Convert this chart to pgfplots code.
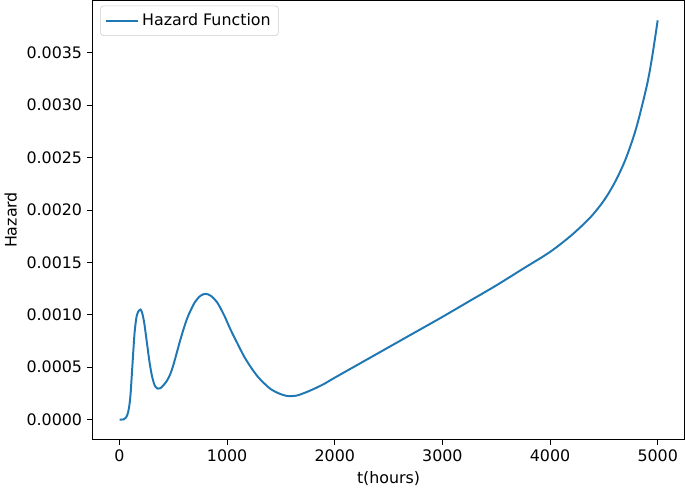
\documentclass[border=0pt]{standalone}
\usepackage{pgfplots}
\pgfplotsset{compat=1.18}
\usepackage{fontspec}
\setmainfont{DejaVu Sans}
\definecolor{mplblue}{HTML}{1F77B4}

\begin{document}
\begin{tikzpicture}
  \begin{axis}[
    scale only axis,
    width=422pt, height=313pt,
    xmin=-250, xmax=5250,
    ymin=-0.00019, ymax=0.0040,
    xtick={0,1000,2000,3000,4000,5000},
    ytick={0,0.0005,0.001,0.0015,0.002,0.0025,0.003,0.0035},
    scaled x ticks=false, scaled y ticks=false,
    xticklabel style={/pgf/number format/.cd, fixed, 1000 sep={}, assume math mode=true},
    yticklabel style={/pgf/number format/.cd, fixed, fixed zerofill, precision=4, assume math mode=true},
    tick align=outside,
    major tick length=4pt,
    tick style={black, line width=0.6pt},
    axis line style={line width=0.6pt},
    xtick pos=bottom, ytick pos=left,
    tick label style={font=\fontsize{11.3}{13}\selectfont},
    label style={font=\fontsize{11.3}{13}\selectfont},
    xlabel={t(hours)},
    ylabel={Hazard},
    legend style={at={(0.013,0.988)}, anchor=north west, draw=black!20,
      rounded corners=2pt, font=\fontsize{11.3}{13}\selectfont,
      inner sep=3.5pt, row sep=0pt},
    legend cell align=left,
    legend image code/.code={\draw[#1] (0cm,0cm) -- (0.8cm,0cm);},
  ]
  \addplot[mplblue, line width=1.4pt, smooth, tension=0.5] coordinates {
    (0,0) (40,0.000002) (60,0.00002) (80,0.00007) (100,0.00021)
    (120,0.00052) (140,0.00083) (160,0.00099) (180,0.00104) (195,0.00105)
    (210,0.00102) (230,0.00092) (255,0.00073) (280,0.00054) (305,0.00040)
    (330,0.00032) (356,0.000295) (380,0.00030) (410,0.00033) (440,0.00037)
    (470,0.00043) (500,0.00052) (530,0.00063) (562,0.00075) (600,0.00088)
    (630,0.00097) (660,0.00104) (700,0.00112) (750,0.00118) (800,0.00120)
    (850,0.00118) (906,0.00112) (970,0.00100) (1031,0.00086) (1094,0.00073)
    (1156,0.000605) (1220,0.00050) (1281,0.000414) (1340,0.00035) (1406,0.000290)
    (1480,0.000250) (1560,0.000225) (1640,0.000228) (1720,0.000255) (1800,0.00029)
    (1900,0.00034) (2000,0.00040) (2250,0.000545) (2500,0.00069) (2750,0.000835)
    (3000,0.00098) (3250,0.00113) (3500,0.00128) (3750,0.00144) (4000,0.00160)
    (4200,0.00176) (4375,0.00193) (4500,0.00209) (4600,0.00226) (4700,0.00248)
    (4800,0.00278) (4900,0.00319) (4950,0.00347) (5000,0.00381)
  };
  \addlegendentry{Hazard Function}
  \end{axis}
\end{tikzpicture}
\end{document}
